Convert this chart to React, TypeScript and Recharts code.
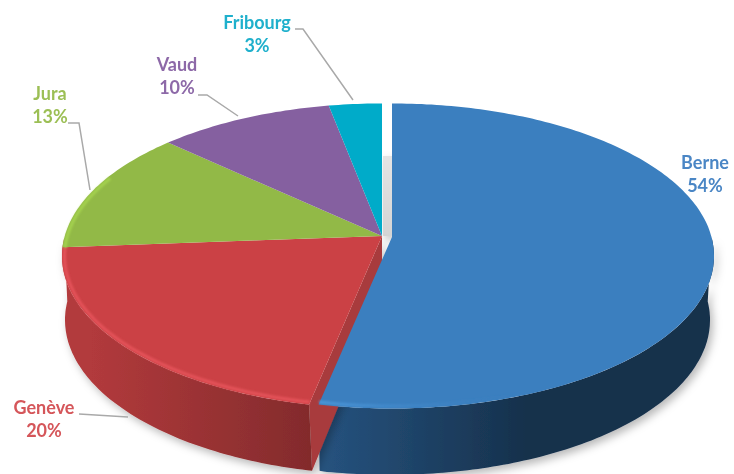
import { PieChart, Pie } from 'recharts';

const categories = ['Berne', 'Genève', 'Jura', 'Vaud', 'Fribourg'];
const shares = [54, 20, 13, 10, 3];
const topColors = ['#3b7fbf', '#cb4145', '#92b947', '#8560a0', '#00abc9'];
const labelColors = ['#4a86c5', '#d5565a', '#9cbf55', '#8d69a8', '#1fb0cc'];
const wallFills = ['url(#wallBlue)', 'url(#wallRed)', 'none', 'none', 'none'];
const rimStrokes = ['url(#rimBlue)', '#e5535a', '#a5d34f', 'none', 'none'];

const tableData = categories.map((name, i) => ({ name, value: shares[i] }));

// the tilted disc: pie radius is the x radius, y is squashed
const CX = 382;
const CY = 236;
const RADIUS = 320;
const TILT = 0.4766;
const ELLIPSE_DROP = 20; // perspective: ellipse centre sits below the apex
const EXPLODE_X = 10;

const WALL_DROP = 64;
const WALL_TILT = 0.484;

// label centres and leader lines, in page pixels
const labelSpots = [
  { x: 705, y: 169, leader: '' },
  { x: 44, y: 414, leader: 'M79 414 L128 417' },
  { x: 50, y: 100, leader: 'M68 123 L79 123 L90 190' },
  { x: 177, y: 71, leader: 'M198 95 L207 95 L238 116' },
  { x: 257, y: 29, leader: 'M295 29 L303 29 L353 100' },
];

type SectorProps = {
  cx: number;
  cy: number;
  outerRadius: number;
  startAngle: number;
  endAngle: number;
  fill?: string;
  index: number;
};

// perspective squeezes the far slices, the near ones stay about where they are
function warp(deg: number) {
  const a = (deg * Math.PI) / 180;
  const y = Math.sin(a);
  const e = -0.09 + 0.21 * Math.min(1, Math.max(0, (y + 0.95) / 0.45));
  const yy = (y + e) / (1 + e * y);
  const xx = Math.sqrt(Math.max(0, 1 - yy * yy)) * (Math.cos(a) < 0 ? -1 : 1);
  return [xx, yy];
}

function rimPoint(p: SectorProps, deg: number, inset = 0) {
  const [xx, yy] = warp(deg);
  const blue = p.index === 0;
  const rx = p.outerRadius + (blue ? 2 : 0) - inset;
  const dx = blue ? EXPLODE_X : 0;
  return [p.cx + dx + rx * xx, p.cy + ELLIPSE_DROP - (p.outerRadius * TILT - inset) * yy];
}

function floorPoint(p: SectorProps, deg: number) {
  const [xx, yy] = warp(deg);
  const dx = p.index === 0 ? 8 : 3;
  return [p.cx + dx + p.outerRadius * xx, p.cy + ELLIPSE_DROP + WALL_DROP - p.outerRadius * WALL_TILT * yy];
}

function sweep(from: number, to: number) {
  const steps = Math.max(2, Math.ceil(Math.abs(from - to)));
  const out: number[] = [];
  for (let i = 0; i <= steps; i++) out.push(from + ((to - from) * i) / steps);
  return out;
}

const toPath = (pts: number[][]) => pts.map((q, i) => (i ? 'L' : 'M') + q[0].toFixed(1) + ' ' + q[1].toFixed(1)).join(' ');

function TopFace(props: any) {
  const p = props as SectorProps;
  const apex = [p.cx + (p.index === 0 ? EXPLODE_X : 0), p.cy + (p.index === 0 ? 1 : 0)];
  const rim = sweep(p.startAngle, p.endAngle).map((d) => rimPoint(p, d));
  // highlight only on the side facing the viewer, a bit round the left edge
  const lo = Math.max(Math.min(p.startAngle, p.endAngle), -205);
  const hi = Math.min(Math.max(p.startAngle, p.endAngle), -2);
  const rimStroke = rimStrokes[p.index];
  return (
    <g>
      <path d={toPath([apex, ...rim]) + ' Z'} fill={topColors[p.index]} />
      {hi > lo && rimStroke !== 'none' && (
        <path
          d={toPath(sweep(lo, hi).map((d) => rimPoint(p, d, 2.5)))}
          fill="none"
          stroke={rimStroke}
          strokeWidth={3}
          filter="url(#soft)"
        />
      )}
    </g>
  );
}

function SideWall(props: any) {
  const p = props as SectorProps;
  if (wallFills[p.index] === 'none') return <g />;
  // the red wall runs on to the silhouette on the left
  const lo = p.index === 1 ? -180 : Math.max(Math.min(p.startAngle, p.endAngle), -180);
  const hi = Math.min(Math.max(p.startAngle, p.endAngle), 0);
  const isBlue = p.index === 0;
  const top = sweep(lo, hi).map((d) => rimPoint(p, d));
  // blue's wall drops straight from its cut corner
  const minX = isBlue ? rimPoint(p, p.endAngle)[0] + 1 : -Infinity;
  const bottom = sweep(hi, lo)
    .map((d) => floorPoint(p, d))
    .map((q) => [Math.max(q[0], minX), q[1]]);
  // red slice also shows its cut face next to the exploded blue one
  const cut =
    p.index === 1
      ? [[p.cx, p.cy], rimPoint(p, hi), floorPoint(p, hi), [p.cx, p.cy + WALL_DROP]]
      : null;
  return (
    <g filter="url(#wallShadow)">
      {isBlue && (
        <rect x={p.cx + 1} y={p.cy - 80} width={EXPLODE_X - 1} height={80} fill="url(#gapShade)" />
      )}
      {cut && <path d={toPath(cut) + ' Z'} fill="#a83a3c" />}
      <path d={toPath([...top, ...bottom]) + ' Z'} fill={wallFills[p.index]} />
    </g>
  );
}

function SliceLabel(props: any) {
  const i = props.index as number;
  const spot = labelSpots[i];
  return (
    <g>
      {spot.leader && <path d={spot.leader} fill="none" stroke="#a9a9a9" strokeWidth={1.5} />}
      <text
        x={spot.x}
        y={spot.y}
        textAnchor="middle"
        fill={labelColors[i]}
        fontFamily="Lato, 'Open Sans', sans-serif"
        fontWeight={700}
        fontSize={18}
      >
        {categories[i]}
      </text>
      <text
        x={spot.x}
        y={spot.y + 23}
        textAnchor="middle"
        fill={labelColors[i]}
        fontFamily="Lato, 'Open Sans', sans-serif"
        fontWeight={700}
        fontSize={18}
      >
        {shares[i]}%
      </text>
    </g>
  );
}

export default function App() {
  return (
    <div style={{ position: 'absolute', left: 0, top: 0, width: 734, height: 474, background: '#fff', overflow: 'hidden' }}>
      <PieChart width={734} height={474} margin={{ top: 0, right: 0, bottom: 0, left: 0 }} style={{ filter: 'blur(0.6px)' }}>
        <defs>
          <linearGradient id="wallBlue" gradientUnits="userSpaceOnUse" x1="320" y1="0" x2="530" y2="0">
            <stop offset="0" stopColor="#26537f" />
            <stop offset="1" stopColor="#16304b" />
          </linearGradient>
          <linearGradient id="wallRed" gradientUnits="userSpaceOnUse" x1="90" y1="0" x2="310" y2="0">
            <stop offset="0" stopColor="#b23a3c" />
            <stop offset="1" stopColor="#832b2c" />
          </linearGradient>
          <linearGradient id="rimBlue" gradientUnits="userSpaceOnUse" x1="320" y1="0" x2="520" y2="0">
            <stop offset="0" stopColor="#4b97da" />
            <stop offset="1" stopColor="#3b7fbf" stopOpacity="0" />
          </linearGradient>
          <linearGradient id="gapShade" x1="0" y1="0" x2="0" y2="1">
            <stop offset="0" stopColor="#e4e4e4" />
            <stop offset="1" stopColor="#d4d4d4" />
          </linearGradient>
          <filter id="soft" x="-10%" y="-10%" width="120%" height="120%">
            <feGaussianBlur stdDeviation="1" />
          </filter>
          <filter id="wallShadow" x="-10%" y="-20%" width="120%" height="140%">
            <feDropShadow dx="3" dy="4" stdDeviation="4" floodColor="#000" floodOpacity="0.28" />
          </filter>
        </defs>
        <Pie
          data={tableData}
          dataKey="value"
          nameKey="name"
          cx={CX}
          cy={CY}
          innerRadius={0}
          outerRadius={RADIUS}
          startAngle={90}
          endAngle={-270}
          stroke="none"
          shape={SideWall}
          isAnimationActive={false}
        />
        <Pie
          data={tableData}
          dataKey="value"
          nameKey="name"
          cx={CX}
          cy={CY}
          innerRadius={0}
          outerRadius={RADIUS}
          startAngle={90}
          endAngle={-270}
          stroke="none"
          shape={TopFace}
          label={SliceLabel}
          labelLine={false}
          isAnimationActive={false}
        />
      </PieChart>
    </div>
  );
}
